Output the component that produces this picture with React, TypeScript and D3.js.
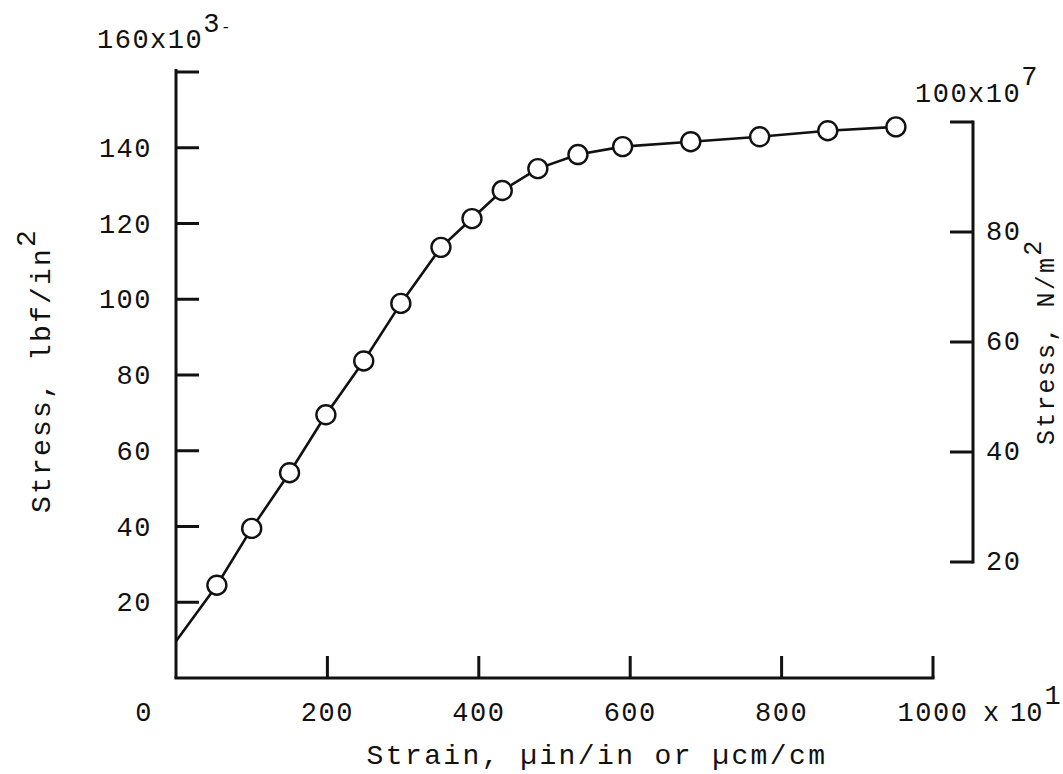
import React from 'react';
import { scaleLinear, line, curveLinear } from 'd3';

// stress-strain points
const strain = [54, 100, 150, 198, 248, 297, 350, 391, 431, 478, 531, 590, 680, 771, 861, 951];
const stress = [24.5, 39.5, 54.2, 69.5, 83.7, 98.9, 113.7, 121.3, 128.7, 134.5, 138.2, 140.3, 141.6, 142.9, 144.5, 145.5];
// where the drawn curve leaves the stress axis
const lineStart = [0, 9.7];

const xTicks = [200, 400, 600, 800, 1000];
const xTickLabels = ['200', '400', '600', '800', '1000'];
const yTicks = [20, 40, 60, 80, 100, 120, 140, 160];
const yTickLabels = ['20', '40', '60', '80', '100', '120', '140'];
const yRightTicks = [20, 40, 60, 80, 100];
const yRightTickLabels = ['20', '40', '60', '80'];

const FONT = '"Liberation Mono", "DejaVu Sans Mono", monospace';
const INK = '#111';

export default function App() {
	const width = 1063;
	const height = 774;

	const xScale = scaleLinear().domain([0, 1000]).range([176, 933]);
	const yScale = scaleLinear().domain([0, 160]).range([678, 72]);
	// right axis, N/m^2 x 10^7
	const yRight = scaleLinear().domain([20, 100]).range([562, 122]);

	const pts = strain.map((s, i) => ({ x: s, y: stress[i] }));
	const lineFn = line<{ x: number; y: number }>()
		.x((d) => xScale(d.x))
		.y((d) => yScale(d.y))
		.curve(curveLinear);

	const x0 = xScale(0);
	const y0 = yScale(0);
	const tickLen = 23;
	const rx = 973;

	const tickText = { fontFamily: FONT, fontSize: 27, letterSpacing: 1.5, fill: INK };

	return (
		<svg
			width={width}
			height={height}
			style={{ position: 'absolute', left: 0, top: 0, background: '#fff' }}
		>
			{/* left axis */}
			<line x1={x0} y1={69} x2={x0} y2={y0} stroke={INK} strokeWidth={3} />
			{yTicks.map((t) => (
				<line key={'yt' + t} x1={x0} x2={x0 + tickLen} y1={yScale(t)} y2={yScale(t)} stroke={INK} strokeWidth={3} />
			))}
			{yTicks.slice(0, yTickLabels.length).map((t, i) => (
				<text key={'yl' + t} x={152} y={yScale(t) + 9} textAnchor="end" style={tickText}>
					{yTickLabels[i]}
				</text>
			))}
			<text x={97} y={48} style={tickText}>
				160x10
				<tspan dy={-16}>3</tspan>
				<tspan dy={0} fontSize={16}>-</tspan>
			</text>

			{/* bottom axis */}
			<line x1={x0 - 1.5} y1={y0} x2={xScale(1000) + 1.5} y2={y0} stroke={INK} strokeWidth={3} />
			{xTicks.map((t) => (
				<line key={'xt' + t} x1={xScale(t)} x2={xScale(t)} y1={y0} y2={y0 - 22} stroke={INK} strokeWidth={3} />
			))}
			{xTicks.slice(0, 4).map((t, i) => (
				<text key={'xl' + t} x={xScale(t)} y={721} textAnchor="middle" style={tickText}>
					{xTickLabels[i]}
				</text>
			))}
			<text x={xScale(1000)} y={721} textAnchor="middle" style={tickText}>
				{xTickLabels[4]}
			</text>
			<text x={983} y={721} style={{ ...tickText, letterSpacing: 0 }}>
				x
				<tspan x={1010}>10</tspan>
				<tspan dy={-17} dx={2}>1</tspan>
			</text>
			<text x={144} y={721} textAnchor="middle" style={tickText}>0</text>

			{/* right axis */}
			<line x1={rx} y1={yRight(100) - 1.5} x2={rx} y2={yRight(20) + 1.5} stroke={INK} strokeWidth={3} />
			{yRightTicks.map((t) => (
				<line key={'rt' + t} x1={rx} x2={rx - tickLen} y1={yRight(t)} y2={yRight(t)} stroke={INK} strokeWidth={3} />
			))}
			{yRightTicks.slice(0, yRightTickLabels.length).map((t, i) => (
				<text key={'rl' + t} x={986} y={yRight(t) + 8} style={tickText}>
					{yRightTickLabels[i]}
				</text>
			))}
			<text x={915} y={102} style={tickText}>
				100x10
				<tspan dy={-17}>7</tspan>
			</text>

			{/* axis titles */}
			<text transform="translate(50,513) rotate(-90)" style={{ ...tickText, fontSize: 28, letterSpacing: 2.2 }}>
				Stress, lbf/in
				<tspan dy={-15}>2</tspan>
			</text>
			<text transform="translate(1054,445) rotate(-90)" style={{ ...tickText, fontSize: 25, letterSpacing: 2.2 }}>
				Stress, N/m
				<tspan dy={-13}>2</tspan>
			</text>
			<text x={597} y={764} textAnchor="middle" style={{ ...tickText, fontSize: 28, letterSpacing: 2.4 }}>
				Strain, µin/in or µcm/cm
			</text>

			{/* curve */}
			<path
				d={lineFn([{ x: lineStart[0], y: lineStart[1] }, ...pts]) || ''}
				fill="none"
				stroke={INK}
				strokeWidth={2.6}
			/>
			{pts.map((d, i) => (
				<circle key={'p' + i} cx={xScale(d.x)} cy={yScale(d.y)} r={9.5} fill="#fff" stroke={INK} strokeWidth={2.4} />
			))}
		</svg>
	);
}
